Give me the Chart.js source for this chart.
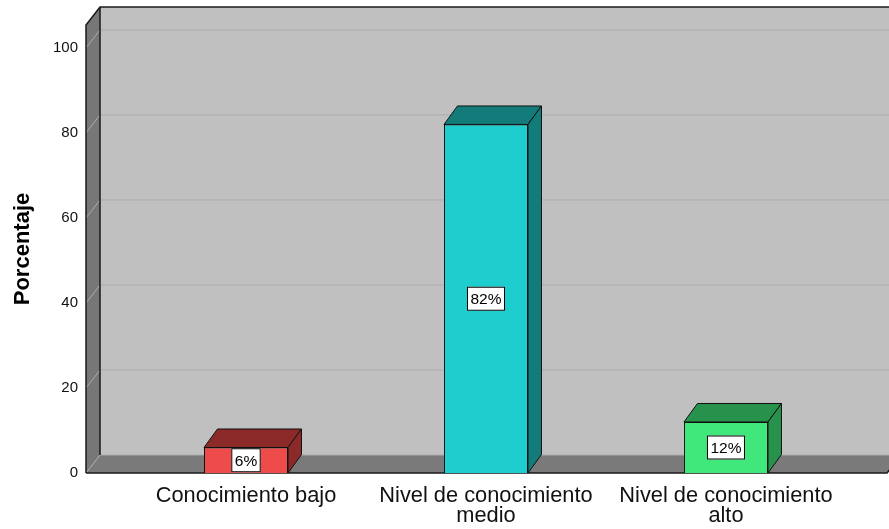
<!DOCTYPE html>
<html><head><meta charset="utf-8">
<script src="https://cdn.jsdelivr.net/npm/chart.js@4.4.1/dist/chart.umd.min.js"></script>
<style>html,body{margin:0;padding:0;background:#fff;overflow:hidden}</style>
</head><body>
<canvas id="c" width="889" height="529"></canvas>
<script>
// ---- data ----
const categories = [['Conocimiento bajo'], ['Nivel de conocimiento', 'medio'], ['Nivel de conocimiento', 'alto']];
const percentages = [6, 82, 12];
const valueLabels = ['6%', '82%', '12%'];
const yTicks = [0, 20, 40, 60, 80, 100];
const yTitle = 'Porcentaje';

// ---- styles ----
const FONT = '"Liberation Sans", Arial, sans-serif';
const frontColors = ['#ee4b4b', '#1ecece', '#40e87c'];
const shadeColors = ['#8c2a2a', '#137b7a', '#26924c'];
const wallDepth = { dx: 14, dy: -18 };
const barDepth = { dx: 13.5, dy: -18.5 };

function poly(ctx, pts) {
  ctx.beginPath();
  ctx.moveTo(pts[0][0], pts[0][1]);
  for (let i = 1; i < pts.length; i++) ctx.lineTo(pts[i][0], pts[i][1]);
  ctx.closePath();
}

const box3d = {
  id: 'box3d',
  beforeDatasetsDraw(chart) {
    const { ctx, chartArea: a, scales: { y } } = chart;
    const W = chart.width;
    const L = a.left, B = a.bottom, T = a.top, R = a.right;
    const dx = wallDepth.dx, dy = wallDepth.dy;
    ctx.save();
    // back wall
    ctx.fillStyle = '#c0c0c0';
    ctx.fillRect(L + dx, T + dy, W, B - T);
    // left wall
    ctx.fillStyle = '#777777';
    poly(ctx, [[L, T], [L + dx, T + dy], [L + dx, B + dy], [L, B]]);
    ctx.fill();
    // floor
    ctx.fillStyle = '#7a7a7a';
    poly(ctx, [[L, B], [L + dx, B + dy], [R + dx, B + dy], [R, B]]);
    ctx.fill();
    // grid lines
    ctx.strokeStyle = '#acacac';
    ctx.lineWidth = 1;
    yTicks.forEach(v => {
      const py = y.getPixelForValue(v);
      ctx.beginPath();
      ctx.moveTo(L, py);
      ctx.lineTo(L + dx, py + dy);
      ctx.lineTo(W + 20, py + dy);
      ctx.stroke();
    });
    // outlines
    ctx.strokeStyle = '#1a1a1a';
    ctx.lineWidth = 1.5;
    ctx.beginPath();
    ctx.moveTo(L, B);
    ctx.lineTo(L, T);
    ctx.lineTo(L + dx, T + dy);
    ctx.lineTo(W + 20, T + dy);
    ctx.moveTo(L + dx, T + dy);
    ctx.lineTo(L + dx, B + dy);
    ctx.moveTo(L, B);
    ctx.lineTo(R, B);
    ctx.lineTo(R + dx, B + dy);
    ctx.stroke();
    ctx.restore();
  },
  afterDatasetsDraw(chart) {
    const ctx = chart.ctx;
    const meta = chart.getDatasetMeta(0);
    const dx = barDepth.dx, dy = barDepth.dy;
    ctx.save();
    meta.data.forEach((bar, i) => {
      const p = bar.getProps(['x', 'y', 'base', 'width'], true);
      const l = p.x - p.width / 2, r = p.x + p.width / 2, top = p.y, base = p.base;
      ctx.fillStyle = shadeColors[i];
      ctx.strokeStyle = '#111';
      ctx.lineWidth = 1;
      poly(ctx, [[l, top], [l + dx, top + dy], [r + dx, top + dy], [r, top]]);
      ctx.fill(); ctx.stroke();
      poly(ctx, [[r, top], [r + dx, top + dy], [r + dx, base + dy], [r, base]]);
      ctx.fill(); ctx.stroke();
      // value label
      ctx.font = '15.5px ' + FONT;
      const tw = ctx.measureText(valueLabels[i]).width;
      const bw = tw + 7, bh = 24;
      const cy = (top + base) / 2;
      ctx.fillStyle = '#ffffff';
      ctx.fillRect(p.x - bw / 2, cy - bh / 2, bw, bh);
      ctx.strokeStyle = '#000';
      ctx.strokeRect(p.x - bw / 2 + 0.5, cy - bh / 2 + 0.5, bw - 1, bh - 1);
      ctx.fillStyle = '#000';
      ctx.textAlign = 'center';
      ctx.textBaseline = 'middle';
      ctx.fillText(valueLabels[i], p.x, cy + 1);
    });
    ctx.restore();
  }
};

new Chart(document.getElementById('c'), {
  type: 'bar',
  data: {
    datasets: [{
      data: percentages.map((v, i) => ({ x: i, y: v })),
      backgroundColor: frontColors,
      borderColor: '#111',
      borderWidth: 1,
      categoryPercentage: 1,
      barPercentage: 0.35
    }]
  },
  options: {
    responsive: false,
    animation: false,
    layout: { padding: { top: 25, right: 2, left: 0, bottom: 0 } },
    plugins: { legend: { display: false }, tooltip: { enabled: false } },
    scales: {
      x: {
        type: 'linear', offset: false,
        min: -0.6667, max: 2.671,
        grid: { display: false, drawTicks: false },
        border: { display: false },
        afterBuildTicks: s => { s.ticks = categories.map((_, i) => ({ value: i })); },
        ticks: {
          autoSkip: false, maxRotation: 0, padding: 13, color: '#111',
          font: { family: FONT, size: 21.8, lineHeight: '20px' },
          callback: v => categories[v]
        },
        afterFit: s => { s.height = 56; }
      },
      y: {
        min: 0, max: 105.4,
        grid: { display: false, drawTicks: false },
        border: { display: false },
        afterBuildTicks: s => { s.ticks = yTicks.map(v => ({ value: v })); },
        ticks: { padding: 8, color: '#111', font: { family: FONT, size: 15 } },
        title: {
          display: true, text: yTitle, color: '#000',
          font: { family: FONT, size: 22, weight: 'bold' },
          padding: { top: 10, bottom: 0 }
        },
        afterFit: s => { s.width = 86; }
      }
    }
  },
  plugins: [box3d]
});
</script>
</body></html>
